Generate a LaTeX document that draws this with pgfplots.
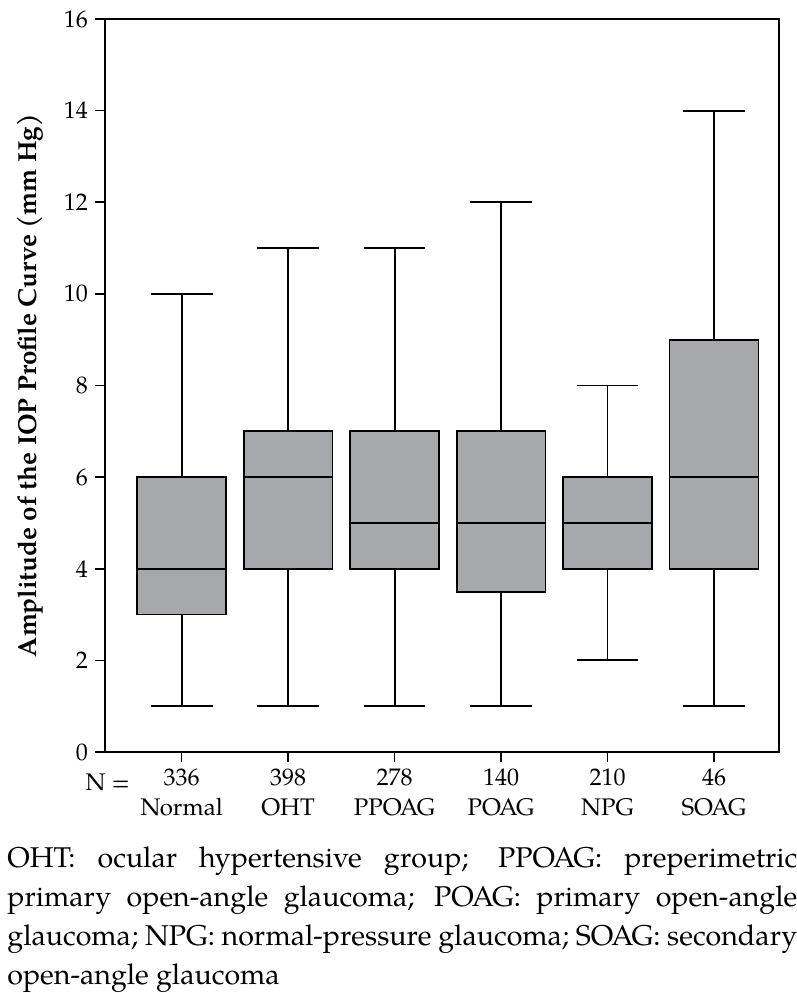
\documentclass[border=0pt]{standalone}
\usepackage{fontspec}
\setmainfont{TeX Gyre Pagella}
\usepackage{pgfplots}
\pgfplotsset{compat=1.18}
\usepgfplotslibrary{statistics}
\definecolor{boxgray}{HTML}{A7A8AC}

\begin{document}
\begin{tikzpicture}
\useasboundingbox (-52.5pt,-120.5pt) rectangle (346pt,376pt);
\begin{axis}[
    scale only axis,
    width=337pt, height=366.5pt,
    xmin=-0.72, xmax=5.61,
    ymin=0, ymax=16,
    ytick={0,2,...,16},
    xtick={0,...,5},
    xtick pos=bottom, ytick pos=left,
    xticklabels={336\\Normal, 398\\OHT, 278\\PPOAG, 140\\POAG, 210\\NPG, 46\\SOAG},
    xticklabel style={align=center, font=\fontsize{12}{15}\selectfont},
    yticklabel style={font=\fontsize{12}{14}\selectfont},
    /pgf/number format/assume math mode=true,
    tick align=outside, major tick length=5pt,
    tick style={line width=0.8pt, black},
    axis line style={line width=0.9pt},
    ylabel={\bfseries Amplitude of the IOP Profile Curve (mm Hg)},
    ylabel style={font=\fontsize{13}{15}\selectfont, at={(axis description cs:-0.111,0.5)}, anchor=center},
    clip=false,
    boxplot/draw direction=y,
    boxplot/box extend=0.835,
    boxplot/whisker extend=0.58,
]
\addplot[fill=boxgray, draw=black, line width=0.9pt, boxplot prepared={draw position=0,
    lower whisker=1, lower quartile=3, median=4, upper quartile=6, upper whisker=10}]
    coordinates {};
\addplot[fill=boxgray, draw=black, line width=0.9pt, boxplot prepared={draw position=1,
    lower whisker=1, lower quartile=4, median=6, upper quartile=7, upper whisker=11}]
    coordinates {};
\addplot[fill=boxgray, draw=black, line width=0.9pt, boxplot prepared={draw position=2,
    lower whisker=1, lower quartile=4, median=5, upper quartile=7, upper whisker=11}]
    coordinates {};
\addplot[fill=boxgray, draw=black, line width=0.9pt, boxplot prepared={draw position=3,
    lower whisker=1, lower quartile=3.5, median=5, upper quartile=7, upper whisker=12}]
    coordinates {};
\addplot[fill=boxgray, draw=black, line width=0.9pt, boxplot prepared={draw position=4,
    lower whisker=2, lower quartile=4, median=5, upper quartile=6, upper whisker=8}]
    coordinates {};
\addplot[fill=boxgray, draw=black, line width=0.9pt, boxplot prepared={draw position=5,
    lower whisker=1, lower quartile=4, median=6, upper quartile=9, upper whisker=14}]
    coordinates {};
\node[font=\fontsize{12}{15}\selectfont, anchor=base east] at (axis cs:-0.42,0) [yshift=-19pt] {N =};
\end{axis}
\node[anchor=north west, text width=395pt, align=justify, inner sep=0pt,
      font=\fontsize{14.3}{19.5}\selectfont] at (-49pt,-47pt)
  {\fontsize{14.3}{19.5}\selectfont\hyphenpenalty=10000 OHT: ocular hypertensive group; PPOAG: preperimetric primary open-angle glaucoma; POAG: primary open-angle glaucoma; NPG: normal-pressure glaucoma; SOAG: secondary open-angle glaucoma\par};
\end{tikzpicture}
\end{document}
